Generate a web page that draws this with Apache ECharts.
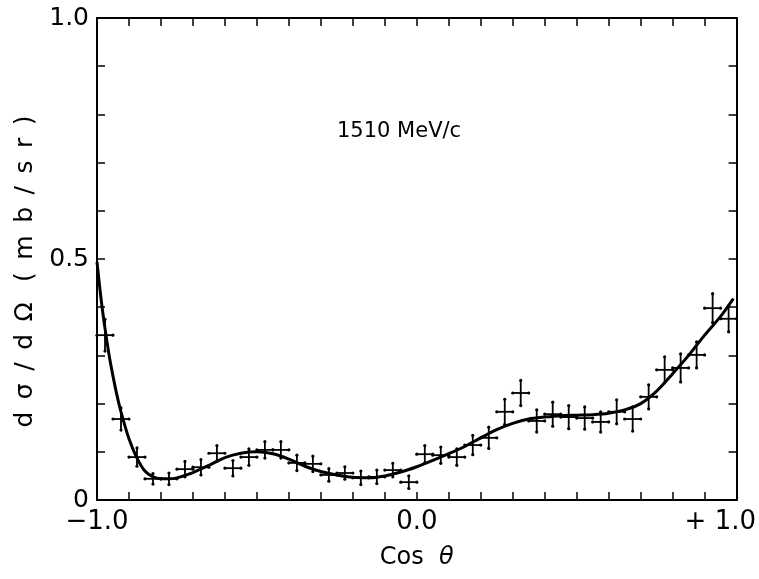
<!DOCTYPE html>
<html>
<head>
<meta charset="utf-8">
<script src="https://cdn.jsdelivr.net/npm/echarts@6/dist/echarts.min.js"></script>
<style>
html,body{margin:0;padding:0;background:#fff;}
#chart{width:759px;height:579px;}
</style>
</head>
<body>
<div id="chart"></div>
<script>
// Measured points (bin centres in cos theta), values and vertical errors (mb/sr)
const cosTheta = [-0.975,-0.925,-0.875,-0.825,-0.775,-0.725,-0.675,-0.625,-0.575,-0.525,
                  -0.475,-0.425,-0.375,-0.325,-0.275,-0.225,-0.175,-0.125,-0.075,-0.025,
                   0.025, 0.075, 0.125, 0.175, 0.225, 0.275, 0.325, 0.375, 0.425, 0.475,
                   0.525, 0.575, 0.625, 0.675, 0.725, 0.775, 0.825, 0.875, 0.925, 0.975];
const dsigma = [0.342,0.168,0.089,0.044,0.044,0.064,0.068,0.097,0.066,0.089,
                0.104,0.104,0.077,0.075,0.052,0.056,0.046,0.048,0.062,0.037,
                0.095,0.093,0.089,0.114,0.129,0.183,0.222,0.164,0.178,0.172,
                0.170,0.162,0.183,0.168,0.214,0.270,0.274,0.301,0.398,0.376];
const dsigmaErr = [0.033,0.023,0.019,0.011,0.012,0.016,0.016,0.016,0.016,0.017,
                   0.017,0.017,0.016,0.016,0.013,0.013,0.014,0.014,0.014,0.013,
                   0.018,0.017,0.017,0.020,0.022,0.026,0.026,0.023,0.025,0.024,
                   0.023,0.021,0.025,0.025,0.025,0.027,0.029,0.027,0.030,0.027];
const binHalfWidth = 0.025;

// Fitted curve
const fitCos = [-1.0,-0.9875,-0.975,-0.9625,-0.95,-0.9375,-0.925,-0.9,-0.875,-0.85,-0.825,-0.8,-0.775,-0.75,
                -0.7,-0.65,-0.6,-0.55,-0.5,-0.45,-0.4,-0.35,-0.3,-0.25,-0.2,-0.15,-0.1,-0.05,
                0.0,0.05,0.1,0.15,0.2,0.25,0.3,0.35,0.4,0.45,0.5,0.55,0.6,0.65,0.7,0.75,
                0.8,0.85,0.9,0.95,0.99];
const fitVal = [0.494,0.418,0.356,0.302,0.257,0.217,0.183,0.127,0.087,0.060,0.048,0.044,0.044,0.046,
                0.057,0.072,0.088,0.097,0.100,0.096,0.085,0.070,0.059,0.052,0.047,0.046,0.050,0.058,
                0.069,0.082,0.096,0.111,0.129,0.146,0.159,0.168,0.172,0.175,0.176,0.177,0.180,0.187,0.200,0.226,
                0.262,0.300,0.342,0.381,0.418];

// Tick labels
const xLabelValues = [-1, 0, 1];
const xLabelTexts = ['\u22121.0', '0.0', '{r|+ 1.0}'];
const yLabelValues = [0, 0.5, 1];
const yLabelTexts = ['0', '0.5', '1.0'];

const FONT = 'DejaVu Sans';
function pick(values, texts, v) {
  for (let i = 0; i < values.length; i++) {
    if (Math.abs(values[i] - v) < 1e-6) return texts[i];
  }
  return '';
}

const axisLineStyle = {onZero: false, lineStyle: {color: '#000', width: 2}};
const tickStyle = {show: true, inside: true, length: 8, lineStyle: {color: '#000', width: 1.5}};
const SP = '\u2002';

const chart = echarts.init(document.getElementById('chart'), null, {renderer: 'canvas'});
chart.setOption({
  backgroundColor: '#fff',
  animation: false,
  title: {
    text: '1510 MeV/c',
    left: 332, top: 116,
    textStyle: {fontFamily: FONT, fontSize: 21, fontWeight: 'normal', color: '#000'}
  },
  grid: {left: 97, right: 18, top: 18, bottom: 79},
  xAxis: [{
    type: 'value', min: -1, max: 1, interval: 0.1,
    axisLine: axisLineStyle, axisTick: tickStyle, splitLine: {show: false},
    axisLabel: {
      margin: 9, color: '#000', fontFamily: FONT, fontSize: 26,
      formatter: v => pick(xLabelValues, xLabelTexts, v),
      rich: {r: {width: 104, align: 'left', fontFamily: FONT, fontSize: 26, color: '#000'}}
    },
    name: '{n|Cos}  {t|\u03b8}', nameLocation: 'middle', nameGap: 46,
    nameTextStyle: {
      fontFamily: FONT, fontSize: 24, color: '#000',
      rich: {
        n: {fontFamily: FONT, fontSize: 24, color: '#000'},
        t: {fontFamily: FONT, fontSize: 24, fontStyle: 'italic', color: '#000'}
      }
    }
  }, {
    type: 'value', min: -1, max: 1, interval: 0.1, position: 'top',
    axisLine: axisLineStyle, axisTick: tickStyle, splitLine: {show: false},
    axisLabel: {show: false}
  }],
  yAxis: [{
    type: 'value', min: 0, max: 1, interval: 0.1,
    axisLine: axisLineStyle, axisTick: tickStyle, splitLine: {show: false},
    axisLabel: {
      margin: 8, color: '#000', fontFamily: FONT, fontSize: 25,
      formatter: v => pick(yLabelValues, yLabelTexts, v)
    },
    name: ['d','\u03c3','/','d','\u03a9',' (','m','b','/','s','r',')'].join(SP) + SP + SP,
    nameLocation: 'middle', nameGap: 54, nameRotate: 90,
    nameTextStyle: {fontFamily: FONT, fontSize: 25, color: '#000'}
  }, {
    type: 'value', min: 0, max: 1, interval: 0.1, position: 'right',
    axisLine: axisLineStyle, axisTick: tickStyle, splitLine: {show: false},
    axisLabel: {show: false}
  }],
  series: [{
    type: 'line',
    xAxisIndex: 0, yAxisIndex: 0,
    data: fitCos.map((c, i) => [c, fitVal[i]]),
    smooth: 0.25,
    showSymbol: false,
    lineStyle: {color: '#000', width: 3},
    z: 3
  }, {
    type: 'custom',
    xAxisIndex: 0, yAxisIndex: 0,
    data: cosTheta.map((c, i) => [c, dsigma[i], dsigmaErr[i]]),
    renderItem: function (params, api) {
      const x = api.value(0), y = api.value(1), e = api.value(2);
      const l = api.coord([x - binHalfWidth, y]);
      const r = api.coord([x + binHalfWidth, y]);
      const t = api.coord([x, y + e]);
      const b = api.coord([x, y - e]);
      const st = {stroke: '#000', lineWidth: 1.8};
      const dot = {fill: '#000'};
      return {
        type: 'group',
        children: [
          {type: 'line', shape: {x1: l[0], y1: l[1], x2: r[0], y2: r[1]}, style: st},
          {type: 'line', shape: {x1: t[0], y1: t[1], x2: b[0], y2: b[1]}, style: st},
          {type: 'circle', shape: {cx: l[0], cy: l[1], r: 1.6}, style: dot},
          {type: 'circle', shape: {cx: r[0], cy: r[1], r: 1.6}, style: dot},
          {type: 'circle', shape: {cx: t[0], cy: t[1], r: 1.6}, style: dot},
          {type: 'circle', shape: {cx: b[0], cy: b[1], r: 1.6}, style: dot}
        ]
      };
    },
    z: 4
  }]
});
</script>
</body>
</html>
